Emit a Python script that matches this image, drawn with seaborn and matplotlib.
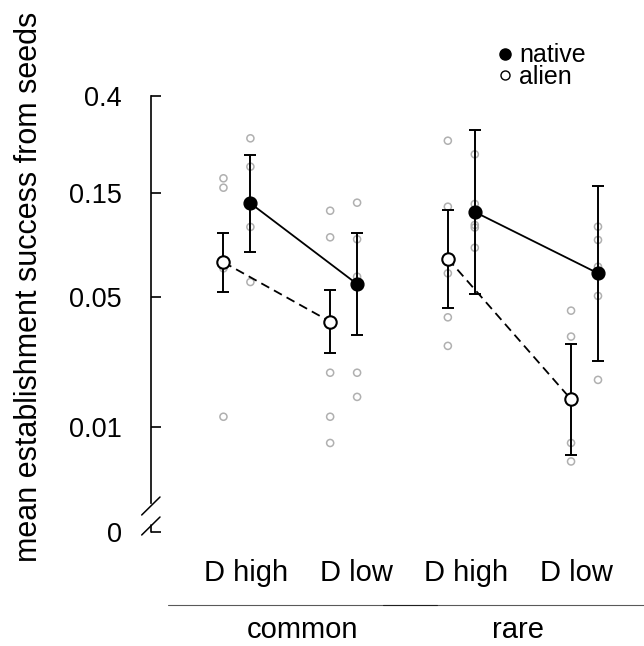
import numpy as np
import pandas as pd
import matplotlib
matplotlib.use("Agg")
import matplotlib.pyplot as plt
from matplotlib.lines import Line2D
import seaborn as sns

# ---------------- data ----------------
abundance = ["common", "common", "rare", "rare"]
disturbance = ["D high", "D low", "D high", "D low"]

native_mean = [0.1350, 0.0578, 0.1234, 0.0649]
native_lo = [0.0816, 0.0328, 0.0519, 0.0242]
native_hi = [0.2213, 0.0990, 0.2839, 0.1610]

alien_mean = [0.0730, 0.0382, 0.0758, 0.0148]
alien_lo = [0.0532, 0.0265, 0.0446, 0.0062]
alien_hi = [0.0990, 0.0540, 0.1259, 0.0294]

native_raw = [
    [0.2611, 0.1960, 0.1057, 0.0591],
    [0.1358, 0.0930, 0.0626, 0.0209, 0.0153],
    [0.2222, 0.1340, 0.1079, 0.1051, 0.0851],
    [0.1060, 0.0923, 0.0696, 0.0508, 0.0191],
]
alien_raw = [
    [0.1742, 0.1583, 0.0684, 0.0116],
    [0.1250, 0.0949, 0.0209, 0.0116, 0.0077],
    [0.2549, 0.1303, 0.0649, 0.0401, 0.0289],
    [0.0432, 0.0322, 0.0077, 0.0055],
]

y_ticks = [0, 0.01, 0.05, 0.15, 0.4]
y_ticklabels = ["0", "0.01", "0.05", "0.15", "0.4"]
ylabel = "mean establishment success from seeds"

# ---------------- layout ----------------
W, H = 644, 646
group_pos = [1.04, 2.01, 3.08, 4.20]     # native positions
alien_shift = 0.245
C = 0.0055                               # log(y + C) axis

sns.set_style("white")
plt.rcParams["font.family"] = ["Liberation Sans", "DejaVu Sans"]
plt.rcParams["text.color"] = "black"
plt.rcParams["axes.labelcolor"] = "black"
plt.rcParams["xtick.color"] = "black"
plt.rcParams["ytick.color"] = "black"

fig = plt.figure(figsize=(W / 100, H / 100), dpi=100)
ax = fig.add_axes([151 / W, 1 - 545 / H, (W - 151) / W, (545 - 60) / H])

def fwd(y):
    return np.log(np.maximum(np.asarray(y, dtype=float) + C, 1e-12))

def inv(t):
    return np.exp(t) - C

ax.set_yscale("function", functions=(fwd, inv))

native_x = list(group_pos)
alien_x = [p - alien_shift for p in group_pos]

# raw points
raw_rows = []
for i in range(4):
    for v in native_raw[i]:
        raw_rows.append({"x": native_x[i], "y": v})
    for v in alien_raw[i]:
        raw_rows.append({"x": alien_x[i], "y": v})
raw_df = pd.DataFrame(raw_rows)
sns.scatterplot(data=raw_df, x="x", y="y", ax=ax, s=26, facecolor="none",
                edgecolor="#b0b0b0", linewidth=1.1, zorder=1, legend=False)

# connecting lines
nat_df = pd.DataFrame({"x": native_x, "y": native_mean, "grp": abundance})
ali_df = pd.DataFrame({"x": alien_x, "y": alien_mean, "grp": abundance})
sns.lineplot(data=nat_df, x="x", y="y", units="grp", estimator=None, ax=ax,
             color="black", linewidth=1.3, zorder=2, legend=False)
sns.lineplot(data=ali_df, x="x", y="y", units="grp", estimator=None, ax=ax,
             color="black", linewidth=1.3, linestyle=(0, (5, 3)), zorder=2,
             legend=False)

# error bars
ax.errorbar(native_x, native_mean,
            yerr=[np.subtract(native_mean, native_lo), np.subtract(native_hi, native_mean)],
            fmt="none", ecolor="black", elinewidth=1.4, capsize=4, capthick=1.4, zorder=3)
ax.errorbar(alien_x, alien_mean,
            yerr=[np.subtract(alien_mean, alien_lo), np.subtract(alien_hi, alien_mean)],
            fmt="none", ecolor="black", elinewidth=1.4, capsize=4, capthick=1.4, zorder=3)

# means
sns.scatterplot(x=native_x, y=native_mean, ax=ax, s=85, color="black",
                edgecolor="black", linewidth=1, zorder=5, legend=False)
sns.scatterplot(x=alien_x, y=alien_mean, ax=ax, s=80, facecolor="white",
                edgecolor="black", linewidth=1.5, zorder=5, legend=False)

# axes
ax.set_xlim(1 + (151 - 246) / 110, 1 + (644 - 246) / 110)
ax.set_ylim(-0.000675, 0.5718)
ax.set_xlabel("")
ax.set_ylabel("")
for s in ["top", "right", "bottom"]:
    ax.spines[s].set_visible(False)
ax.spines["left"].set_linewidth(1.2)
ax.spines["left"].set_color("black")

ax.set_yticks(y_ticks)
ax.set_yticklabels(y_ticklabels)
ax.tick_params(axis="y", left=True, direction="in", length=7.2, width=1.2, pad=21,
               labelsize=19.5, color="black", labelcolor="black")
ax.set_xticks([1, 2, 3, 4])
ax.set_xticklabels(disturbance)
ax.tick_params(axis="x", bottom=False, length=0, pad=10, labelsize=21,
               labelcolor="black")
ax.grid(False)

# axis break
fig.canvas.draw()
inv_t = ax.transData.inverted()
def yval(u):
    return inv_t.transform((0, H - u))[1]

ax.spines["left"].set_bounds(yval(503), 0.4)
ax.plot([0, 0], [yval(525), 0], transform=ax.get_yaxis_transform(),
        color="black", lw=1.2, clip_on=False, zorder=6)
for uc in (506, 526):
    fig.add_artist(Line2D([141.7 / W, 160 / W], [1 - (uc + 9) / H, 1 - (uc - 9) / H],
                          transform=fig.transFigure, color="black", lw=1.1))

# group labels and lines
fig.add_artist(Line2D([168 / W, 437 / W], [1 - 605 / H, 1 - 605 / H],
                      transform=fig.transFigure, color="black", lw=0.8, alpha=0.65))
fig.add_artist(Line2D([383 / W, 1.02], [1 - 605 / H, 1 - 605 / H],
                      transform=fig.transFigure, color="black", lw=0.8, alpha=0.65))
fig.text(303 / W, 1 - 630 / H, "common", ha="center", va="center", fontsize=21)
fig.text(517.5 / W, 1 - 630 / H, "rare", ha="center", va="center", fontsize=21)

# y label
fig.text(29 / W, 1 - 287 / H, ylabel, rotation=90, ha="center", va="center",
         fontsize=22)

# legend
handles = [
    Line2D([], [], marker="o", linestyle="none", markerfacecolor="black",
           markeredgecolor="black", markersize=8),
    Line2D([], [], marker="o", linestyle="none", markerfacecolor="white",
           markeredgecolor="black", markersize=6.5, markeredgewidth=1),
]
fig.legend(handles, ["native", "alien"], loc="center left",
           bbox_to_anchor=(494 / W, 1 - 66 / H), frameon=False, fontsize=18,
           handlelength=0.85, handletextpad=0.15, labelspacing=-0.12,
           borderpad=0, borderaxespad=0)

fig.savefig("out.png", dpi=100)
